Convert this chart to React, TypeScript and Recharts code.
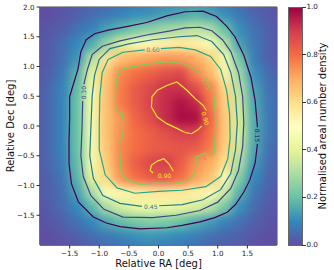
import React from 'react';
import { ScatterChart, Scatter, XAxis, YAxis, ReferenceArea } from 'recharts';

// grid cell centres (deg), one padding cell past each edge so the blur doesn't fade at the frame
const raCenters = [-2.125, -1.875, -1.625, -1.375, -1.125, -0.875, -0.625, -0.375, -0.125, 0.125, 0.375, 0.625, 0.875, 1.125, 1.375, 1.625, 1.875, 2.125];
const decCenters = [2.125, 1.875, 1.625, 1.375, 1.125, 0.875, 0.625, 0.375, 0.125, -0.125, -0.375, -0.625, -0.875, -1.125, -1.375, -1.625, -1.875, -2.125];

// normalised density, rows top -> bottom
const densityRows = [
  [0.0, 0.0, 0.01, 0.02, 0.03, 0.04, 0.05, 0.06, 0.07, 0.09, 0.1, 0.1, 0.09, 0.06, 0.04, 0.02, 0.01, 0.0],
  [0.0, 0.0, 0.01, 0.03, 0.05, 0.07, 0.09, 0.11, 0.12, 0.14, 0.15, 0.17, 0.15, 0.11, 0.07, 0.04, 0.02, 0.01],
  [0.0, 0.01, 0.03, 0.06, 0.09, 0.14, 0.18, 0.22, 0.25, 0.28, 0.3, 0.32, 0.3, 0.2, 0.11, 0.06, 0.03, 0.01],
  [0.0, 0.02, 0.05, 0.1, 0.16, 0.27, 0.38, 0.47, 0.52, 0.54, 0.56, 0.55, 0.47, 0.32, 0.14, 0.07, 0.03, 0.01],
  [0.0, 0.02, 0.06, 0.12, 0.31, 0.58, 0.66, 0.7, 0.72, 0.74, 0.73, 0.7, 0.63, 0.45, 0.22, 0.08, 0.03, 0.01],
  [0.0, 0.03, 0.07, 0.17, 0.4, 0.64, 0.76, 0.8, 0.83, 0.86, 0.88, 0.77, 0.68, 0.54, 0.28, 0.11, 0.05, 0.02],
  [0.01, 0.04, 0.09, 0.19, 0.44, 0.66, 0.78, 0.84, 0.88, 0.92, 0.92, 0.87, 0.77, 0.61, 0.32, 0.14, 0.06, 0.03],
  [0.01, 0.04, 0.09, 0.2, 0.45, 0.66, 0.78, 0.84, 0.89, 0.93, 0.97, 0.94, 0.79, 0.63, 0.35, 0.15, 0.07, 0.03],
  [0.01, 0.04, 0.09, 0.2, 0.46, 0.66, 0.74, 0.82, 0.87, 0.93, 0.98, 0.98, 0.82, 0.64, 0.37, 0.16, 0.07, 0.03],
  [0.01, 0.04, 0.09, 0.2, 0.46, 0.66, 0.75, 0.8, 0.83, 0.86, 0.89, 0.89, 0.8, 0.64, 0.37, 0.16, 0.07, 0.03],
  [0.01, 0.04, 0.09, 0.2, 0.45, 0.65, 0.76, 0.8, 0.83, 0.84, 0.85, 0.84, 0.78, 0.63, 0.35, 0.15, 0.06, 0.03],
  [0.01, 0.04, 0.08, 0.19, 0.45, 0.64, 0.76, 0.83, 0.88, 0.9, 0.84, 0.75, 0.7, 0.6, 0.3, 0.13, 0.05, 0.02],
  [0.01, 0.03, 0.07, 0.17, 0.4, 0.61, 0.74, 0.8, 0.84, 0.85, 0.8, 0.72, 0.66, 0.52, 0.24, 0.1, 0.04, 0.02],
  [0.01, 0.03, 0.06, 0.14, 0.29, 0.47, 0.53, 0.56, 0.57, 0.57, 0.57, 0.55, 0.52, 0.35, 0.17, 0.07, 0.03, 0.01],
  [0.0, 0.02, 0.05, 0.1, 0.18, 0.3, 0.37, 0.42, 0.43, 0.43, 0.41, 0.38, 0.33, 0.22, 0.11, 0.05, 0.02, 0.01],
  [0.0, 0.01, 0.03, 0.06, 0.1, 0.15, 0.19, 0.22, 0.24, 0.23, 0.2, 0.16, 0.13, 0.09, 0.06, 0.03, 0.01, 0.0],
  [0.0, 0.0, 0.01, 0.03, 0.05, 0.07, 0.09, 0.11, 0.12, 0.11, 0.1, 0.08, 0.06, 0.04, 0.03, 0.01, 0.0, 0.0],
  [0.0, 0.0, 0.0, 0.01, 0.02, 0.04, 0.05, 0.06, 0.07, 0.06, 0.05, 0.04, 0.03, 0.02, 0.01, 0.0, 0.0, 0.0],
];

const xTicks = [-1.5, -1, -0.5, 0, 0.5, 1, 1.5];
const yTicks = [-1.5, -1, -0.5, 0, 0.5, 1, 1.5, 2];
const cbTicks = [0, 0.2, 0.4, 0.6, 0.8, 1];

// contour paths [ra, dec], left open where the inline label sits
const contour15 = [
  [1.67, -0.3], [1.63, -0.63], [1.54, -0.91], [1.44, -1.11], [1.3, -1.32], [1.16, -1.45], [0.95, -1.54], [0.7, -1.61],
  [0.4, -1.67], [0.14, -1.71], [-0.31, -1.73], [-0.65, -1.69], [-0.88, -1.63], [-1.1, -1.53], [-1.35, -1.28],
  [-1.47, -0.97], [-1.51, -0.63], [-1.51, -0.24], [-1.5, 0.15], [-1.5, 0.49], [-1.45, 0.66], [-1.36, 0.95],
  [-1.31, 1.25], [-1.22, 1.45], [-1.08, 1.55], [-0.85, 1.61], [-0.54, 1.67], [-0.2, 1.74], [0.14, 1.85],
  [0.45, 1.92], [0.75, 1.93], [0.98, 1.84], [1.15, 1.68], [1.29, 1.5], [1.44, 1.19], [1.56, 0.82], [1.63, 0.43],
  [1.66, 0.1], [1.67, -0.02],
];
const contour30 = [
  [-1.28, 0.42], [-1.29, 0.0], [-1.31, -0.5], [-1.27, -0.85], [-1.14, -1.17], [-0.92, -1.4], [-0.6, -1.53],
  [-0.1, -1.54], [0.3, -1.5], [0.7, -1.42], [1.0, -1.28], [1.22, -1.05], [1.35, -0.75], [1.42, -0.35], [1.44, 0.05],
  [1.42, 0.5], [1.35, 0.9], [1.22, 1.25], [1.08, 1.45], [0.9, 1.6], [0.7, 1.66], [0.45, 1.65], [0.2, 1.6],
  [-0.2, 1.53], [-0.65, 1.43], [-0.95, 1.34], [-1.12, 1.2], [-1.2, 0.95], [-1.26, 0.7],
];
const contour45 = [
  [0.01, -1.34], [0.4, -1.32], [0.75, -1.24], [1.05, -1.07], [1.22, -0.8], [1.3, -0.4], [1.33, 0.05], [1.3, 0.5],
  [1.22, 0.9], [1.1, 1.2], [0.9, 1.42], [0.65, 1.52], [0.35, 1.5], [-0.1, 1.45], [-0.5, 1.38], [-0.82, 1.3],
  [-1.0, 1.12], [-1.08, 0.85], [-1.12, 0.5], [-1.14, 0.0], [-1.16, -0.5], [-1.1, -0.88], [-0.94, -1.17],
  [-0.65, -1.3], [-0.28, -1.35],
];
const contour60 = [
  [0.04, 1.3], [0.35, 1.32], [0.62, 1.28], [0.88, 1.17], [1.05, 0.95], [1.15, 0.6], [1.2, 0.2], [1.21, -0.2],
  [1.17, -0.55], [1.05, -0.85], [0.8, -1.02], [0.4, -1.08], [0.0, -1.1], [-0.4, -1.13], [-0.7, -1.04],
  [-0.9, -0.82], [-1.0, -0.4], [-1.0, 0.0], [-0.99, 0.5], [-0.95, 0.9], [-0.85, 1.12], [-0.6, 1.24], [-0.23, 1.28],
];
const contour75 = [
  [0.93, 0.58], [0.95, 0.32], [0.97, 0.04], [0.95, -0.24], [0.94, -0.47], [0.76, -0.46], [0.64, -0.52],
  [0.62, -0.8], [0.48, -0.92], [0.25, -0.97], [-0.03, -0.96], [-0.31, -0.98], [-0.51, -0.92], [-0.63, -0.78],
  [-0.65, -0.52], [-0.66, -0.27], [-0.6, -0.16], [-0.59, 0.07], [-0.62, 0.21], [-0.72, 0.26], [-0.73, 0.49],
  [-0.71, 0.77], [-0.65, 0.94], [-0.48, 0.99], [-0.2, 1.04], [0.14, 1.08], [0.42, 1.05], [0.62, 0.94], [0.7, 0.87],
];
const contour90a = [
  [0.73, 0.0], [0.67, -0.06], [0.56, -0.13], [0.45, -0.11], [0.31, -0.04], [0.14, 0.04], [-0.02, 0.15],
  [-0.12, 0.32], [-0.11, 0.49], [-0.02, 0.6], [0.14, 0.68], [0.31, 0.74], [0.48, 0.6], [0.62, 0.46], [0.75, 0.35],
  [0.81, 0.26],
];
const contour90b = [
  [0.25, -0.76], [0.18, -0.64], [0.09, -0.55], [-0.02, -0.59], [-0.12, -0.66], [-0.14, -0.75], [-0.09, -0.79],
];

const contourLabels = [
  { level: 0.15, x: 1.67, y: -0.16 },
  { level: 0.3, x: -1.27, y: 0.56 },
  { level: 0.45, x: -0.13, y: -1.345 },
  { level: 0.6, x: -0.095, y: 1.29 },
  { level: 0.75, x: 0.82, y: 0.72 },
  { level: 0.9, x: 0.79, y: 0.13 },
  { level: 0.9, x: 0.1, y: -0.84 },
];
// text rotation for each label above, same order
const labelAngles = [90, -90, 0, 0, 62, 75, 0];

const SPECTRAL = ['#5e4fa2', '#3288bd', '#66c2a5', '#abdda4', '#e6f598', '#ffffbf', '#fee08b', '#fdae61', '#f46d43', '#d53e4f', '#9e0142'];
const levelColor: Record<string, string> = {
  '0.15': '#440154', '0.30': '#414487', '0.45': '#2a788e', '0.60': '#22a884', '0.75': '#7ad151', '0.90': '#fde725',
};

const FONT = '"DejaVu Sans", sans-serif';
const PLOT_W = 237;
const PLOT_H = 238;
const CELL_W = PLOT_W / 16 + 0.8;
const CELL_H = PLOT_H / 16 + 0.8;

const hex = (c: string) => [1, 3, 5].map((i) => parseInt(c.slice(i, i + 2), 16));
const spectral = (v: number) => {
  const t = Math.max(0, Math.min(1, v)) * (SPECTRAL.length - 1);
  const i = Math.min(Math.floor(t), SPECTRAL.length - 2);
  const f = t - i;
  const a = hex(SPECTRAL[i]);
  const b = hex(SPECTRAL[i + 1]);
  return `rgb(${a.map((c, k) => Math.round(c + (b[k] - c) * f)).join(',')})`;
};

const heatCells = decCenters.flatMap((y, i) => raCenters.map((x, j) => ({ x, y, v: densityRows[i][j] })));

const contours = [
  { level: 0.15, pts: contour15 },
  { level: 0.3, pts: contour30 },
  { level: 0.45, pts: contour45 },
  { level: 0.6, pts: contour60 },
  { level: 0.75, pts: contour75 },
  { level: 0.9, pts: contour90a },
  { level: 0.9, pts: contour90b },
].map((c) => ({ key: c.level.toFixed(2), data: c.pts.map(([x, y]) => ({ x, y })) }));

const labelData = contourLabels.map((l, i) => ({ ...l, idx: i }));

const fmt = (v: number) => (v < 0 ? '\u2212' : '') + Math.abs(v).toFixed(1);

const HeatCell = (props: any) => {
  const { cx, cy, payload } = props;
  return <rect x={cx - CELL_W / 2} y={cy - CELL_H / 2} width={CELL_W} height={CELL_H} fill={spectral(payload.v)} />;
};

const ContourLabel = (props: any) => {
  const { cx, cy, payload } = props;
  const k = payload.level.toFixed(2);
  return (
    <text
      x={cx}
      y={cy}
      transform={`rotate(${labelAngles[payload.idx]} ${cx} ${cy})`}
      textAnchor="middle"
      dominantBaseline="central"
      fontSize={6}
      fontFamily={FONT}
      fill={levelColor[k]}
    >
      {k}
    </text>
  );
};

const tickStyle = { fontSize: 7.2, fill: '#222', fontFamily: FONT };

export default function App() {
  return (
    <div style={{ position: 'relative', width: 334, height: 270, background: '#fff', fontFamily: FONT }}>
      <style>{`body{margin:0} .heat{filter:blur(5px)}`}</style>
      <div style={{ position: 'absolute', left: 0, top: 0 }}>
        <ScatterChart width={280} height={270} margin={{ top: 7, right: 3, bottom: 0, left: 0 }}>
          <XAxis
            type="number"
            dataKey="x"
            domain={[-2, 2]}
            allowDataOverflow
            ticks={xTicks}
            tickFormatter={fmt}
            tick={tickStyle}
            tickSize={3.5}
            tickLine={{ stroke: '#333' }}
            axisLine={{ stroke: '#444' }}
            height={25}
            label={{ value: 'Relative RA [deg]', position: 'insideBottom', offset: 3, fontSize: 10, fill: '#111', fontFamily: FONT }}
          />
          <YAxis
            type="number"
            dataKey="y"
            domain={[-2, 2]}
            allowDataOverflow
            ticks={yTicks}
            tickFormatter={fmt}
            tick={tickStyle}
            tickSize={3.5}
            tickLine={{ stroke: '#333' }}
            axisLine={{ stroke: '#444' }}
            width={40}
            label={{
              value: 'Relative Dec [deg]',
              angle: -90,
              position: 'insideLeft',
              offset: 10,
              fontSize: 10,
              fill: '#111',
              fontFamily: FONT,
              style: { textAnchor: 'middle' },
            }}
          />
          <Scatter className="heat" data={heatCells} shape={<HeatCell />} isAnimationActive={false} />
          {contours.map((c, i) => (
            <Scatter
              key={i}
              data={c.data}
              fill={levelColor[c.key]}
              line={{ stroke: levelColor[c.key], strokeWidth: 1.2 }}
              shape={() => <g />}
              isAnimationActive={false}
            />
          ))}
          <Scatter data={labelData} shape={<ContourLabel />} isAnimationActive={false} />
          <ReferenceArea x1={-2} x2={2} y1={-2} y2={2} fill="none" stroke="#444" strokeWidth={1} ifOverflow="visible" />
        </ScatterChart>
      </div>
      {/* colour bar */}
      <div
        style={{
          position: 'absolute',
          left: 288,
          top: 7,
          width: 13,
          height: 237,
          border: '0.8px solid #666',
          background: `linear-gradient(to top, ${SPECTRAL.join(', ')})`,
        }}
      />
      {cbTicks.map((t) => {
        const y = 7 + (1 - t) * 238;
        return (
          <React.Fragment key={t}>
            <div style={{ position: 'absolute', left: 302, top: y - 0.5, width: 3.5, height: 1, background: '#333' }} />
            <div style={{ position: 'absolute', left: 306.5, top: y - 5, height: 10, lineHeight: '10px', fontSize: 7.2, color: '#222' }}>
              {t.toFixed(1)}
            </div>
          </React.Fragment>
        );
      })}
      <div
        style={{
          position: 'absolute',
          left: 322,
          top: 126,
          transform: 'translate(-50%, -50%) rotate(-90deg)',
          whiteSpace: 'nowrap',
          fontSize: 10,
          color: '#111',
        }}
      >
        Normalised areal number density
      </div>
    </div>
  );
}
